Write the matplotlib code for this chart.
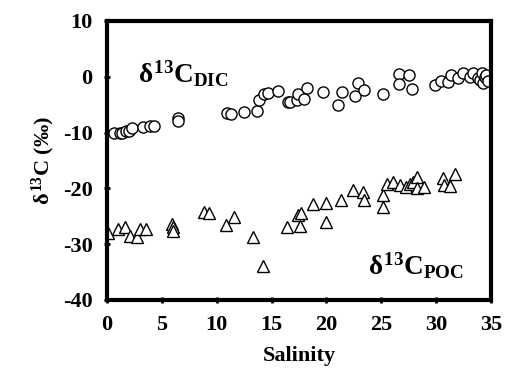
import matplotlib
matplotlib.use("Agg")
import matplotlib.pyplot as plt

plt.rcParams['font.family'] = ['Liberation Serif', 'DejaVu Serif']
plt.rcParams['font.weight'] = 'bold'
plt.rcParams['axes.unicode_minus'] = False
plt.rcParams['mathtext.fontset'] = 'custom'
plt.rcParams['mathtext.rm'] = 'Liberation Serif:bold'
plt.rcParams['mathtext.bf'] = 'Liberation Serif:bold'
plt.rcParams['mathtext.it'] = 'Liberation Serif:bold'

# d13C of DIC (circles)
dic_sal = [0.6, 1.2, 1.4, 1.7, 2.0, 2.3, 3.3, 3.9, 4.3, 6.5, 6.5,
           10.9, 11.3, 12.5, 13.7, 13.9, 14.3, 14.7, 15.6, 16.5, 16.7,
           17.3, 17.4, 18.0, 18.2, 19.7, 21.1, 21.4, 22.6, 22.9, 23.4,
           25.2, 26.6, 26.6, 27.5, 27.8, 29.9, 30.5, 31.1, 31.4, 32.0,
           32.5, 33.1, 33.4, 33.8, 34.0, 34.2, 34.3, 34.5, 34.6, 34.7]
dic_val = [-10.0, -10.0, -10.0, -9.8, -9.8, -9.2, -9.0, -8.8, -8.8, -7.3, -8.0,
           -6.5, -6.7, -6.3, -6.1, -4.2, -3.0, -2.9, -2.5, -4.6, -4.5,
           -4.2, -3.1, -4.0, -2.0, -2.8, -5.1, -2.8, -3.4, -1.2, -2.4,
           -3.0, 0.5, -1.3, 0.4, -2.2, -1.5, -0.7, -1.0, 0.3, -0.3,
           0.7, 0.0, 0.6, -0.3, -0.6, 0.6, -1.2, 0.0, 0.3, -0.8]

# d13C of POC (triangles)
poc_sal = [0.1, 1.0, 1.6, 2.1, 2.7, 3.0, 3.6, 5.9, 6.0, 6.05,
           8.8, 9.3, 10.85, 11.6, 13.3, 14.25, 16.4, 17.4, 17.6, 17.7,
           18.8, 19.95, 19.95, 21.3, 22.45, 23.3, 23.4, 25.2, 25.2, 25.5,
           26.1, 26.7, 27.3, 27.6, 27.9, 28.3, 28.3, 28.95, 30.6, 30.7,
           31.3, 31.7]
poc_val = [-28.0, -27.2, -27.0, -28.5, -28.7, -27.3, -27.3, -26.3, -27.0, -27.6,
           -24.2, -24.4, -26.6, -25.1, -28.8, -33.9, -27.0, -24.8, -26.7, -24.5,
           -22.8, -26.0, -22.6, -22.0, -20.3, -20.7, -22.0, -21.2, -23.3, -19.2,
           -18.8, -19.4, -19.8, -19.3, -18.9, -17.9, -20.0, -19.8, -18.2, -19.4,
           -19.6, -17.4]

fig = plt.figure(figsize=(5.06, 3.81), dpi=100)
ax = fig.add_axes([0.2115, 0.2126, 0.7585, 0.7324])

ax.plot(dic_sal, dic_val, 'o', ms=8, mfc='white', mec='black', mew=1.0, ls='none')
ax.plot(poc_sal, poc_val, '^', ms=9, mfc='white', mec='black', mew=1.0, ls='none')

ax.set_xlim(0, 35)
ax.set_ylim(-40, 10)
ax.set_xticks(range(0, 36, 5))
ax.set_yticks(range(-40, 11, 10))

for s in ax.spines.values():
    s.set_linewidth(3)
ax.tick_params(direction='inout', length=5, width=2, labelsize=16, pad=8)
for lab in ax.get_xticklabels() + ax.get_yticklabels():
    lab.set_fontweight('bold')

ax.set_xlabel('Salinity', fontsize=16, fontweight='bold', labelpad=8)
ax.set_ylabel(r'$\delta^{13}$C (‰)', fontsize=16, fontweight='bold', labelpad=4)

ax.text(2.8, -1.1, r'$\delta^{13}C_{DIC}$', fontsize=19.5)
ax.text(23.8, -35.5, r'$\delta^{13}C_{POC}$', fontsize=19.5)

fig.savefig('out.png', dpi=100)
